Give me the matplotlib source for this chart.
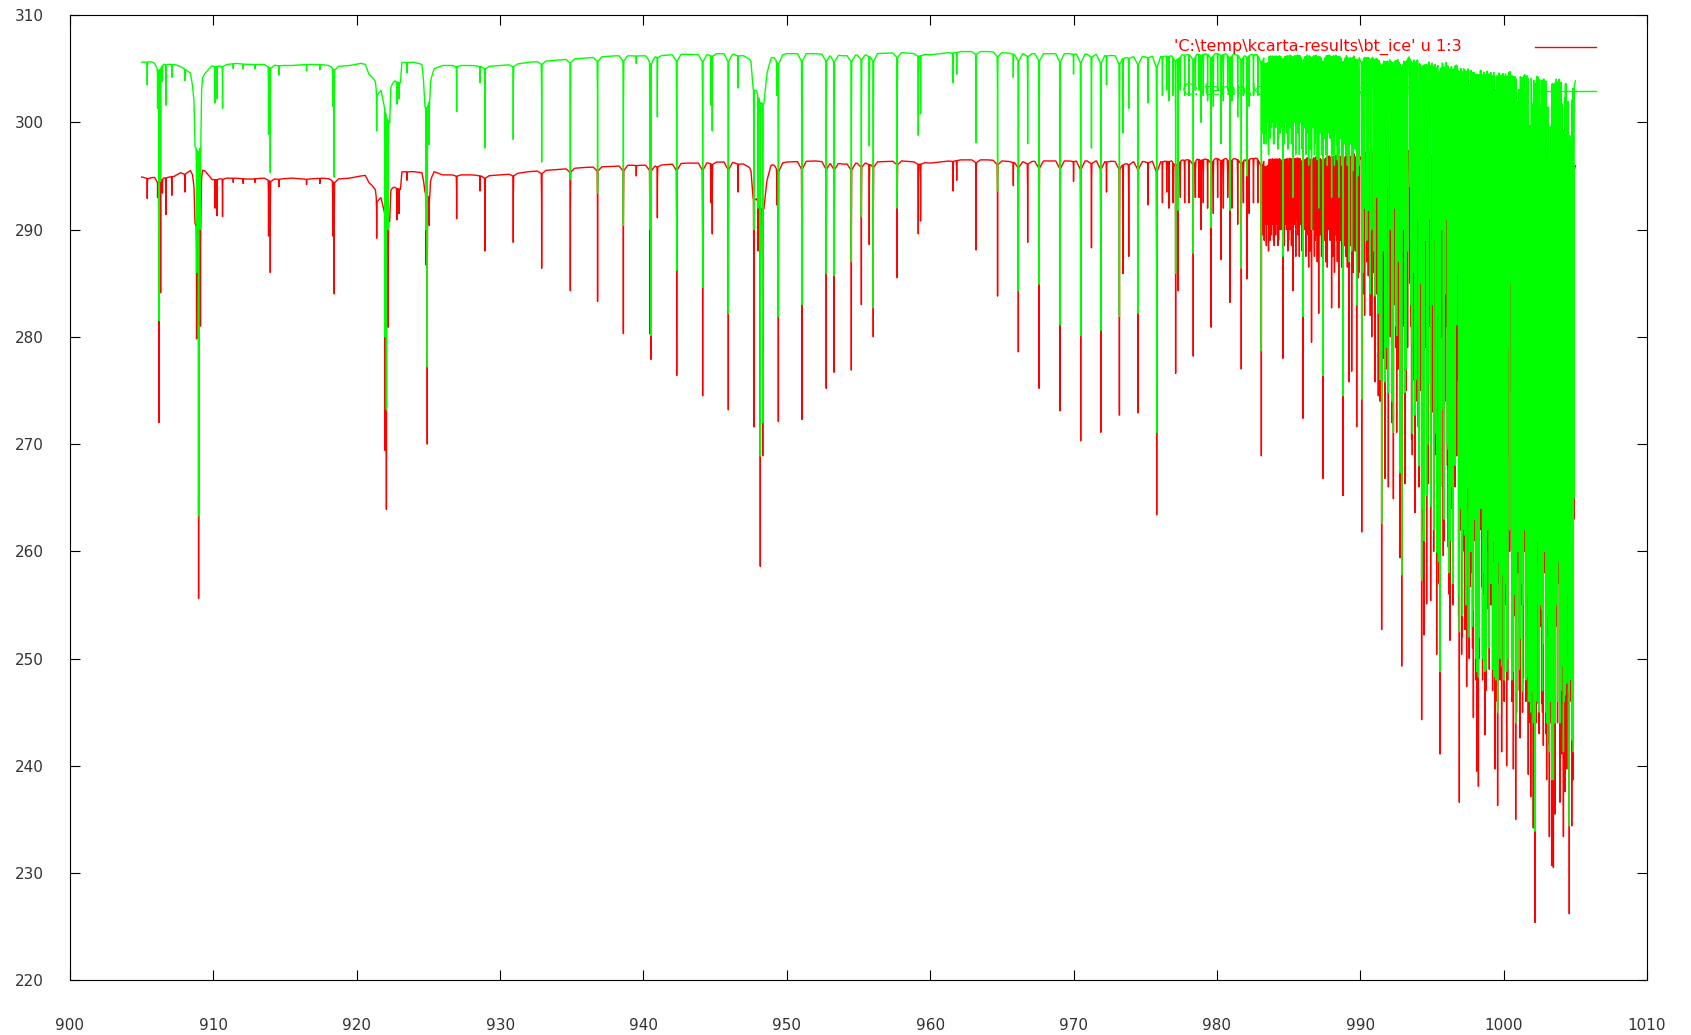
import numpy as np
import matplotlib
matplotlib.use("Agg")
import matplotlib.pyplot as plt

# ---------------- data ----------------
# continuum (baseline) anchors: wavenumber, green (bt_clr) and red (bt_ice) brightness temperature
base_wn = [905.0, 905.5, 906.0, 906.6, 907.3, 907.7, 908.0, 908.4, 908.55, 908.65, 908.72, 909.12, 909.18,
           909.25, 909.45, 909.9, 910.5, 911.5, 912.5, 913.5, 914.5, 915.5, 916.5, 917.5, 918.5, 919.5, 920.3,
           920.6, 920.85, 921.3, 921.4, 921.7, 921.85, 922.3, 922.38, 922.65, 923.05, 923.15, 924.0, 924.55,
           924.65, 924.75, 925.1, 925.15, 925.4, 926.0, 927.0, 928.0, 929.0, 930.0, 931.0, 932.0, 933.0, 934.0,
           935.0, 936.0, 937.0, 938.0, 939.0, 940.0, 941.0, 942.0, 943.0, 944.0, 945.0, 946.0, 947.0, 947.5,
           947.65, 948.0, 948.4, 948.6, 948.9, 950.0, 952.0, 954.0, 956.0, 958.0, 960.0, 962.0, 964.0, 966.0,
           968.0, 970.0, 972.0, 974.0, 976.0, 978.0, 980.0, 982.0, 984.0, 986.0, 988.0, 990.0, 992.0, 994.0,
           996.0, 998.0, 1000.0, 1002.0, 1004.0, 1005.0]
green_base = [305.6, 305.7, 305.5, 305.5, 305.4, 305.2, 305.0, 304.6, 303.4, 302.1, 298.0, 298.4, 303.4,
              304.3, 304.6, 305.3, 305.3, 305.5, 305.4, 305.4, 305.3, 305.3, 305.4, 305.4, 305.2, 305.3, 305.5,
              305.4, 304.5, 303.9, 302.6, 303.0, 302.4, 300.2, 303.4, 303.9, 303.7, 305.6, 305.6, 305.4,
              304.2, 301.8, 302.5, 304.0, 305.0, 305.3, 305.3, 305.3, 305.2, 305.3, 305.4, 305.6, 305.7, 305.8,
              305.9, 306.0, 306.1, 306.2, 306.2, 306.2, 306.2, 306.3, 306.35, 306.3, 306.4, 306.4, 306.2, 305.8,
              303.5, 303.0, 302.5, 304.5, 306.0, 306.4, 306.4, 306.2, 306.4, 306.5, 306.3, 306.6, 306.6, 306.4,
              306.4, 306.4, 306.3, 306.1, 306.2, 306.4, 306.5, 306.4, 306.4, 306.5, 306.5, 306.5, 306.5, 306.6,
              306.4, 306.2, 306.0, 305.8, 305.5, 305.0]
red_base = [294.9, 294.8, 294.9, 294.9, 295.0, 295.3, 295.2, 295.5, 295.1, 294.1, 290.8, 291.0, 295.2,
            295.7, 295.4, 294.7, 294.8, 294.8, 294.7, 294.8, 294.7, 294.8, 294.7, 294.8, 294.7, 294.8, 295.0,
            295.05, 294.4, 293.8, 292.7, 293.0, 292.5, 291.0, 293.8, 294.0, 293.8, 295.4, 295.4, 295.3,
            294.7, 293.9, 293.5, 294.7, 295.4, 295.1, 295.1, 295.1, 295.0, 295.1, 295.2, 295.4, 295.5, 295.6,
            295.7, 295.8, 295.85, 295.9, 296.0, 296.0, 296.0, 296.1, 296.2, 296.2, 296.3, 296.3, 296.1, 295.7,
            293.5, 293.0, 292.5, 294.5, 296.0, 296.3, 296.4, 296.1, 296.3, 296.4, 296.2, 296.5, 296.5, 296.3,
            296.4, 296.4, 296.4, 296.3, 296.4, 296.6, 296.7, 296.7, 296.8, 296.9, 297.1, 297.5, 297.8, 297.8,
            297.8, 297.8, 297.8, 297.8, 297.5, 297.0]

# absorption lines: centre wavenumber, minimum of green curve, minimum of red curve
line_wn = [905.39, 906.11, 906.20, 906.32, 906.45, 906.69, 907.10, 908.02, 908.83, 908.97, 909.10,
           910.11, 910.25, 910.64, 911.39, 912.08, 912.90, 913.85, 913.97, 914.57, 916.50, 917.43,
           918.33, 918.43, 921.39, 921.98, 922.07, 922.20, 922.80, 922.95, 923.50, 924.83, 924.92, 925.06,
           926.97, 928.60, 928.94, 930.92, 932.90, 934.90, 936.80, 938.60,
           939.50, 940.45, 940.52, 940.97, 942.32, 944.13, 944.70, 944.80, 945.92, 946.60, 947.70, 948.00,
           948.15, 948.32, 949.30, 949.41, 951.05, 952.75, 953.30, 954.50, 955.20, 955.75, 956.03,
           957.70, 959.17, 959.33, 961.60, 961.85, 963.20, 964.70, 965.80, 966.15, 966.80, 967.60, 969.06,
           970.00, 970.50, 971.25, 971.90, 972.30,
           973.20, 973.45, 973.85, 974.50, 975.20, 975.80, 976.50, 977.12, 977.30, 978.35, 978.90, 979.60,
           980.30, 980.90, 981.70, 982.10, 983.10, 983.50, 983.80, 984.10, 984.60, 985.30, 986.00, 986.60,
           987.10, 987.40, 988.00, 988.50, 988.80, 989.20, 989.40, 989.75,
           990.10, 990.56, 991.03, 991.26, 991.49, 991.72, 991.96, 992.31, 992.54, 992.77, 992.89, 993.12,
           993.58, 993.82, 994.05, 994.28, 994.45, 994.63, 994.75, 994.91, 995.33, 995.56, 995.79, 996.14,
           996.26, 996.72, 996.91, 997.07, 997.31, 997.42, 997.65, 997.89, 998.12, 998.24, 998.47, 998.70,
           998.93, 999.40, 999.58, 999.86, 999.98, 1000.21, 1000.68, 1000.84, 1001.14, 1001.38, 1001.72,
           1001.89, 1002.07, 1002.19, 1002.42, 1002.65, 1002.77, 1003.00, 1003.19, 1003.35, 1003.47,
           1003.58, 1003.93, 1004.05, 1004.17, 1004.28, 1004.40, 1004.58, 1004.75, 1004.86]
line_green = [303.5, 301.3, 281.5, 294.5, 303.8, 301.6, 304.2, 303.9, 286.0, 263.3, 290.0,
              301.8, 302.2, 301.3, 305.0, 305.0, 305.0, 298.9, 295.3, 304.4, 304.8, 304.9,
              301.5, 294.9, 299.2, 280.0, 273.2, 290.0, 301.7, 302.2, 304.6, 290.0, 277.2, 297.9,
              301.0, 303.7, 297.6, 298.4, 296.3, 294.7, 293.4, 290.4,
              305.5, 290.0, 280.1, 300.5, 286.2, 284.6, 301.6, 299.2, 282.2, 303.2, 290.0, 292.0,
              268.9, 272.0, 302.5, 281.9, 283.0, 285.9, 285.7, 287.0, 291.2, 297.8, 282.7,
              292.0, 298.8, 300.8, 303.7, 304.5, 298.1, 293.6, 304.2, 284.3, 298.0, 284.9, 281.1,
              304.5, 280.1, 297.6, 280.6, 303.5,
              281.9, 299.0, 301.3, 282.2, 301.8, 271.1, 303.0, 285.9, 291.8, 287.8, 300.0, 290.2,
              298.0, 291.8, 286.4, 295.0, 278.7, 300.0, 299.5, 299.5, 287.5, 293.0, 281.9, 290.0,
              292.0, 276.4, 293.0, 293.0, 274.5, 287.0, 288.0, 283.0,
              274.2, 291.8, 283.8, 282.2, 262.6, 275.8, 274.8, 271.1, 280.1, 267.3, 257.8, 274.8,
              279.5, 272.7, 281.1, 257.3, 261.0, 265.2, 275.8, 264.2, 259.9, 248.8, 273.2, 269.5,
              261.0, 281.1, 252.5, 259.9, 261.5, 257.3, 266.3, 254.6, 248.8, 248.3, 265.7, 248.8,
              263.6, 248.3, 245.0, 249.3, 257.8, 248.8, 248.8, 244.0, 251.9, 255.1, 248.3,
              245.0, 244.0, 233.9, 255.1, 254.6, 251.4, 244.0, 241.3, 238.7, 238.7,
              244.0, 244.0, 249.3, 241.3, 246.6, 247.7, 234.4, 242.4, 241.3]
line_red = [292.9, 293.0, 272.0, 284.1, 293.4, 291.4, 293.2, 293.5, 279.8, 255.6, 281.0,
            292.0, 291.3, 291.2, 294.4, 294.3, 294.4, 289.4, 286.0, 294.0, 294.2, 294.3,
            289.4, 284.0, 289.2, 269.4, 263.9, 280.9, 290.9, 291.5, 294.6, 286.7, 270.0, 290.4,
            291.0, 293.6, 288.0, 288.8, 286.4, 284.3, 283.3, 280.3,
            295.0, 280.3, 277.9, 291.1, 276.4, 274.5, 292.5, 289.6, 273.2, 293.5, 271.6, 288.0,
            258.6, 268.9, 292.3, 272.1, 272.3, 275.2, 276.7, 276.9, 283.0, 288.6, 280.0,
            285.5, 289.6, 290.8, 293.6, 294.6, 288.1, 283.8, 294.1, 278.6, 288.8, 275.2, 273.1,
            294.5, 270.3, 288.3, 271.1, 293.5,
            272.7, 285.9, 287.5, 272.9, 292.3, 263.4, 293.5, 276.6, 284.3, 278.2, 290.0, 280.9,
            287.2, 283.2, 277.0, 285.4, 268.9, 290.5, 289.5, 289.5, 278.0, 284.3, 272.4, 279.5,
            282.2, 266.8, 282.7, 282.7, 265.2, 275.8, 276.8, 271.6,
            261.8, 285.7, 275.8, 274.5, 252.7, 266.8, 266.0, 264.9, 271.1, 259.4, 249.3, 266.3,
            270.5, 263.6, 271.6, 244.3, 252.2, 255.1, 266.3, 255.4, 250.4, 241.1, 259.6, 260.4,
            251.7, 268.9, 236.6, 250.4, 252.7, 247.4, 256.7, 244.5, 239.5, 238.1, 256.7, 242.9,
            254.6, 239.7, 236.3, 241.3, 249.3, 240.0, 239.7, 235.0, 242.6, 248.2, 239.2,
            237.1, 234.2, 225.4, 245.8, 245.8, 241.9, 238.7, 233.4, 230.7, 230.5,
            235.5, 236.6, 241.1, 233.4, 237.6, 239.7, 226.2, 234.4, 238.7]

# weaker lines filling the dense part of the spectrum (976-1005 cm-1)
weak_wn = [976.20, 976.65, 976.95, 977.45, 977.75, 978.05, 978.50, 978.75, 979.05, 979.35, 979.75, 980.05,
           980.45, 980.75, 981.05, 981.45, 981.85, 982.25, 982.55, 982.85,
           983.20, 983.30, 983.35, 983.40, 983.45, 983.55, 983.60, 983.70, 983.85, 983.95, 984.00, 984.15,
           984.25, 984.30, 984.40, 984.50, 984.70, 984.80, 984.85, 984.95, 985.00, 985.10, 985.20, 985.40,
           985.50, 985.55, 985.65, 985.75, 985.85, 985.95, 986.10, 986.20, 986.25, 986.35, 986.40, 986.50,
           986.70, 986.80, 986.85, 986.95, 987.00, 987.20, 987.30, 987.50, 987.60, 987.70, 987.80, 987.90,
           988.10, 988.20, 988.25, 988.35, 988.40, 988.60, 988.70, 988.90, 989.00, 989.10, 989.30, 989.50,
           989.60, 989.65, 989.85, 989.90,
           990.30, 990.80, 991.15, 991.60, 991.85, 992.10, 992.42, 992.65, 993.00, 993.30, 993.45, 993.70,
           993.95, 994.17, 994.55, 994.85, 995.05, 995.20, 995.45, 995.68, 995.92, 996.03, 996.40, 996.55,
           996.80, 997.18, 997.55, 997.77, 998.00, 998.35, 998.58, 998.82, 999.05, 999.17, 999.28, 999.50,
           999.70, 1000.10, 1000.35, 1000.50, 1000.95, 1001.05, 1001.25, 1001.50, 1001.60, 1001.80,
           1001.97, 1002.30, 1002.55, 1002.88, 1003.10, 1003.27, 1003.70, 1003.82, 1004.10, 1004.23,
           1004.34, 1004.50, 1004.67, 1004.80]
weak_green = [302.5, 302.0, 302.5, 303.0, 302.5, 302.5, 303.0, 303.0, 302.5, 302.0, 301.5, 303.0,
              302.0, 303.0, 302.0, 300.5, 302.5, 301.5, 302.5, 302.5,
              299.0, 298.0, 300.0, 299.0, 298.0, 300.5, 297.0, 298.5, 300.0, 298.0, 298.0, 300.0,
              297.5, 298.5, 299.0, 299.5, 298.0, 300.0, 299.0, 297.5, 298.0, 299.5, 298.0, 300.0,
              297.0, 300.0, 299.0, 297.0, 300.0, 297.5, 299.5, 297.0, 299.0, 299.0, 296.0, 297.5,
              299.5, 297.0, 298.0, 299.0, 296.5, 299.0, 297.0, 298.5, 297.0, 296.0, 299.0, 298.5,
              297.0, 296.0, 299.0, 298.0, 296.5, 298.5, 296.0, 298.0, 297.0, 296.0, 298.0, 295.5,
              298.0, 297.5, 295.0, 296.0,
              292.0, 290.0, 293.0, 288.0, 294.0, 290.0, 292.0, 287.0, 290.0, 288.0, 294.0, 286.0,
              291.0, 285.0, 289.0, 291.0, 283.0, 289.0, 282.0, 290.0, 284.0, 291.0, 282.0, 288.0,
              286.0, 284.0, 287.0, 281.0, 286.0, 280.0, 286.0, 280.0, 284.0, 288.0, 279.0, 285.0,
              280.0, 283.0, 279.0, 285.0, 278.0, 286.0, 280.0, 284.0, 278.0, 282.0,
              277.0, 281.0, 276.0, 280.0, 276.0, 282.0, 278.0, 283.0, 279.0, 284.0,
              278.0, 282.0, 279.0, 284.0]
weak_red = [292.5, 292.0, 292.5, 293.0, 292.5, 292.5, 293.0, 293.0, 292.5, 292.0, 291.5, 293.0,
            292.0, 293.0, 292.0, 290.5, 292.5, 291.5, 292.5, 292.5,
            289.5, 289.0, 290.5, 290.5, 288.5, 291.0, 288.0, 289.0, 290.5, 289.0, 288.5, 290.5,
            288.5, 289.0, 290.0, 290.0, 288.5, 290.5, 290.0, 288.0, 289.0, 290.0, 288.5, 290.5,
            287.5, 291.0, 289.5, 287.5, 290.5, 288.0, 290.0, 287.5, 290.0, 289.5, 286.5, 288.0,
            290.0, 287.5, 289.0, 289.5, 287.0, 289.5, 287.5, 289.0, 287.0, 286.5, 290.0, 289.0,
            287.5, 286.0, 289.5, 289.0, 287.0, 289.0, 286.5, 288.5, 287.5, 286.5, 288.5, 286.0,
            288.5, 288.0, 285.5, 286.0,
            282.0, 280.0, 284.0, 278.0, 285.0, 280.0, 283.0, 277.0, 281.0, 279.0, 285.0, 276.0,
            282.0, 275.0, 279.0, 281.0, 273.0, 279.0, 272.0, 280.0, 274.0, 281.0, 272.0, 278.0,
            276.0, 274.0, 277.0, 271.0, 276.0, 270.0, 276.0, 270.0, 274.0, 278.0, 269.0, 275.0,
            270.0, 273.0, 269.0, 275.0, 268.0, 276.0, 270.0, 274.0, 268.0, 272.0,
            267.0, 271.0, 266.0, 270.0, 266.0, 272.0, 268.0, 273.0, 269.0, 284.0,
            268.0, 272.0, 269.0, 274.0]

# strong lines packed between the others at the high-wavenumber end (990-1005 cm-1)
fill_wn = [990.20, 990.45, 990.70, 990.95, 991.38, 991.82, 992.20, 992.48, 992.83, 993.20, 993.52, 993.63,
           993.88, 994.10, 994.35, 994.70, 995.12, 995.26, 995.50, 995.60, 995.85, 996.08, 996.20, 996.33,
           996.47, 996.62, 996.86, 996.98, 997.12, 997.25, 997.37, 997.48, 997.60, 997.71, 997.83, 997.95,
           998.06, 998.18, 998.30, 998.41, 998.53, 998.64, 998.76, 998.88, 999.00, 999.11, 999.23, 999.34,
           999.45, 999.64, 999.76, 999.92, 1000.04, 1000.16, 1000.28, 1000.42, 1000.58, 1000.75, 1000.90,
           1001.00, 1001.10, 1001.20, 1001.32, 1001.44, 1001.55, 1001.66, 1001.77, 1001.84, 1002.02,
           1002.13, 1002.25, 1002.36, 1002.48, 1002.60, 1002.71, 1002.83, 1002.94, 1003.05, 1003.15,
           1003.23, 1003.31, 1003.41, 1003.53, 1003.64, 1003.76, 1003.88, 1003.99, 1004.12, 1004.20,
           1004.45, 1004.55, 1004.63, 1004.71, 1004.90]
fill_green = [286, 289, 284, 288, 276, 279, 274, 281, 272, 277, 283, 271,
              276, 268, 264, 270, 262, 271, 259, 268, 263, 270, 258, 266,
              257, 268, 256, 264, 254, 262, 255, 266, 252, 260, 253, 263,
              250, 259, 252, 264, 250, 258, 249, 262, 251, 257, 249, 261,
              248, 259, 250, 263, 248, 257, 250, 262, 248, 256, 247,
              260, 249, 257, 247, 262, 248, 256, 246, 259, 247,
              258, 246, 261, 245, 255, 247, 260, 245, 254, 244,
              258, 246, 262, 244, 255, 246, 259, 247, 262, 246,
              256, 247, 260, 248, 265]
fill_red = [284, 287, 282, 286, 274, 277, 272, 279, 270, 275, 281, 269,
            274, 266, 262, 268, 260, 269, 257, 266, 261, 268, 256, 264,
            255, 266, 254, 262, 252, 260, 253, 264, 250, 258, 251, 261,
            248, 257, 250, 262, 248, 256, 247, 260, 249, 255, 247, 259,
            246, 257, 248, 261, 246, 255, 248, 260, 246, 254, 245,
            258, 247, 255, 245, 260, 246, 254, 244, 257, 245,
            256, 244, 259, 243, 253, 245, 258, 243, 252, 242,
            256, 244, 260, 242, 253, 244, 257, 245, 260, 244,
            254, 245, 258, 246, 263]

x_ticks = [900, 910, 920, 930, 940, 950, 960, 970, 980, 990, 1000, 1010]
y_ticks = [220, 230, 240, 250, 260, 270, 280, 290, 300, 310]
legend_red = "'C:\\temp\\kcarta-results\\bt_ice' u 1:3"
legend_green = "'C:\\temp\\kcarta-results\\bt_clr' u 1:3"

# ---------------- build the traces ----------------
# drawing shape of a single line (offset from centre in cm-1, fraction of the line depth)
prof_dx = np.array([-0.3, -0.12, -0.03, -0.006, 0.0, 0.006, 0.03, 0.12, 0.3])
prof_f = np.array([0.0, 0.02, 0.03, 0.3, 1.0, 0.3, 0.03, 0.02, 0.0])

all_wn = np.array(line_wn + weak_wn + fill_wn, dtype=float)
all_g = np.array(line_green + weak_green + fill_green, dtype=float)
all_r = np.array(line_red + weak_red + fill_red, dtype=float)

xs = np.unique(np.concatenate([np.array(base_wn)] + [c + prof_dx for c in all_wn]))
xs = xs[(xs >= base_wn[0]) & (xs <= base_wn[-1])]


def trace(base_vals, mins):
    base = np.interp(xs, base_wn, base_vals)
    cut = np.zeros_like(xs)
    for c, m in zip(all_wn, mins):
        depth = np.interp(c, base_wn, base_vals) - m
        cut = np.maximum(cut, depth * np.interp(xs - c, prof_dx, prof_f, left=0.0, right=0.0))
    return base - cut


y_red = trace(red_base, all_r)
y_green = trace(green_base, all_g)

# ---------------- figure ----------------
plt.rcParams['font.family'] = ['DejaVu Sans']
W, H = 1691, 1035
fig = plt.figure(figsize=(W / 100, H / 100), dpi=100)
ax = fig.add_axes([70 / W, (H - 980.3) / H, (1647 - 70) / W, (980.3 - 15.1) / H])

ax.plot(xs, y_red, color='#ff0000', lw=1.0, zorder=2)
ax.plot(xs, y_green, color='#00ff00', lw=1.0, zorder=3)

ax.set_xlim(900, 1010)
ax.set_ylim(220, 310)
ax.set_xticks(x_ticks)
ax.set_yticks(y_ticks)
ax.tick_params(axis='both', direction='in', length=7, width=0.8, top=True, right=True,
               labelsize=11, labelcolor='#333333', color='black')
ax.tick_params(axis='x', pad=27)
ax.tick_params(axis='y', pad=19)
for s in ax.spines.values():
    s.set_linewidth(0.8)
    s.set_color('black')

# key (gnuplot style)
ax.text(0.8827, 0.9668, legend_red, transform=ax.transAxes, ha='right', va='center',
        fontsize=11.5, color='#ff0000', zorder=5)
ax.plot([0.9292, 0.9677], [0.9673, 0.9673], transform=ax.transAxes, color='#ff0000', lw=1.0,
        zorder=5, clip_on=False)
ax.text(0.8827, 0.9214, legend_green, transform=ax.transAxes, ha='right', va='center',
        fontsize=11.5, color='#00ff00', zorder=1)
ax.plot([0.9292, 0.9677], [0.9214, 0.9214], transform=ax.transAxes, color='#00ff00', lw=1.0,
        zorder=1, clip_on=False)

fig.savefig('out.png', dpi=100)
